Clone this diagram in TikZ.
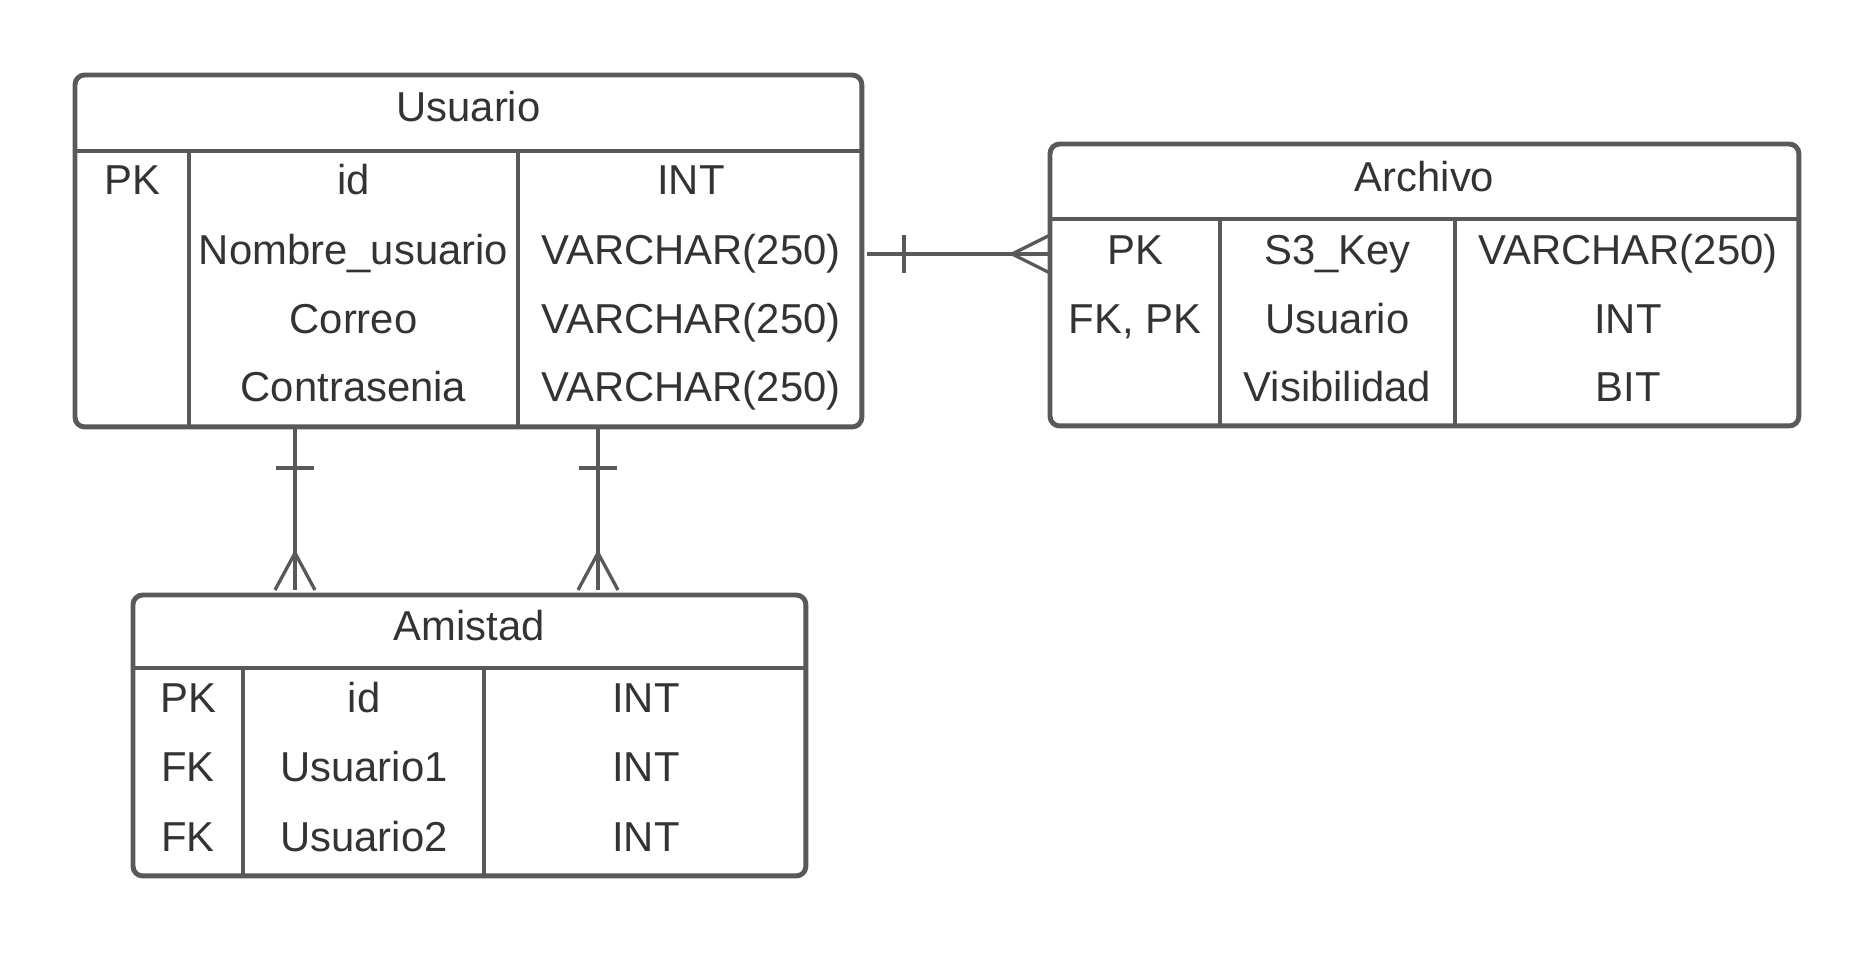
\documentclass[tikz,border=0pt]{standalone}
\usepackage{fontspec}
\setmainfont{Liberation Sans}
\definecolor{ln}{HTML}{595959}
\definecolor{tx}{HTML}{333333}
\begin{document}
\begin{tikzpicture}[x=0.02cm,y=-0.02cm,
  box/.style={draw=ln,line width=2.8pt,rounded corners=5.5pt,inner sep=0pt,outer sep=0pt,anchor=north west},
  sep/.style={draw=ln,line width=2.8pt},
  conn/.style={draw=ln,line width=1.9pt},
  lbl/.style={text=tx,anchor=base,inner sep=0pt,font=\fontsize{23.8pt}{28pt}\selectfont}]
\useasboundingbox (0,0) rectangle (1875,953);
% ---------- Usuario ----------
\node[box,minimum width=15.74cm,minimum height=7.04cm] (U) at (75,75) {};
\draw[sep] (75,151) -- (862,151);
\draw[sep] (189,151) -- (189,427);
\draw[sep] (518,151) -- (518,427);
\node[lbl] (uh) at (468.5,121) {Usuario};
\node[lbl] (u11) at (132,194) {PK};
\node[lbl] (u12) at (353.5,194) {id};
\node[lbl] (u13) at (691,194) {INT};
\node[lbl] (u22) at (353.5,264) {Nombre\_usuario};
\node[lbl] (u23) at (691,264) {VARCHAR(250)};
\node[lbl] (u32) at (353.5,333) {Correo};
\node[lbl] (u33) at (691,333) {VARCHAR(250)};
\node[lbl] (u42) at (353.5,401) {Contrasenia};
\node[lbl] (u43) at (691,401) {VARCHAR(250)};
% ---------- Archivo ----------
\node[box,minimum width=14.98cm,minimum height=5.64cm] (A) at (1050,144) {};
\draw[sep] (1050,219) -- (1799,219);
\draw[sep] (1220,219) -- (1220,426);
\draw[sep] (1455,219) -- (1455,426);
\node[lbl] (ah) at (1424.5,191) {Archivo};
\node[lbl] (a11) at (1135,264) {PK};
\node[lbl] (a12) at (1337.5,264) {S3\_Key};
\node[lbl] (a13) at (1628,264) {VARCHAR(250)};
\node[lbl] (a21) at (1135,333) {FK, PK};
\node[lbl] (a22) at (1337.5,333) {Usuario};
\node[lbl] (a23) at (1628,333) {INT};
\node[lbl] (a32) at (1337.5,401) {Visibilidad};
\node[lbl] (a33) at (1628,401) {BIT};
% ---------- Amistad ----------
\node[box,minimum width=13.46cm,minimum height=5.62cm] (M) at (133,595) {};
\draw[sep] (133,668) -- (806,668);
\draw[sep] (243,668) -- (243,876);
\draw[sep] (484,668) -- (484,876);
\node[lbl] (mh) at (469.5,640) {Amistad};
\node[lbl] (m11) at (188,712) {PK};
\node[lbl] (m12) at (364,712) {id};
\node[lbl] (m13) at (646,712) {INT};
\node[lbl] (m21) at (188,781) {FK};
\node[lbl] (m22) at (364,781) {Usuario1};
\node[lbl] (m23) at (646,781) {INT};
\node[lbl] (m31) at (188,851) {FK};
\node[lbl] (m32) at (364,851) {Usuario2};
\node[lbl] (m33) at (646,851) {INT};
% ---------- connectors ----------
\coordinate (ua) at (867,254);
\coordinate (au) at (1050,254);
\draw[conn] (ua) -- (au);
\draw[conn] (904,235) -- (904,273);
\draw[conn] (1050,235) -- (1012,254) -- (1050,273);
\coordinate (um1) at (295,428);
\coordinate (mu1) at (295,590);
\draw[conn] (um1) -- (mu1);
\draw[conn] (276,468) -- (314,468);
\draw[conn] (275,590) -- (295,553) -- (315,590);
\coordinate (um2) at (598,428);
\coordinate (mu2) at (598,590);
\draw[conn] (um2) -- (mu2);
\draw[conn] (579,468) -- (617,468);
\draw[conn] (578,590) -- (598,553) -- (618,590);
\end{tikzpicture}
\end{document}
